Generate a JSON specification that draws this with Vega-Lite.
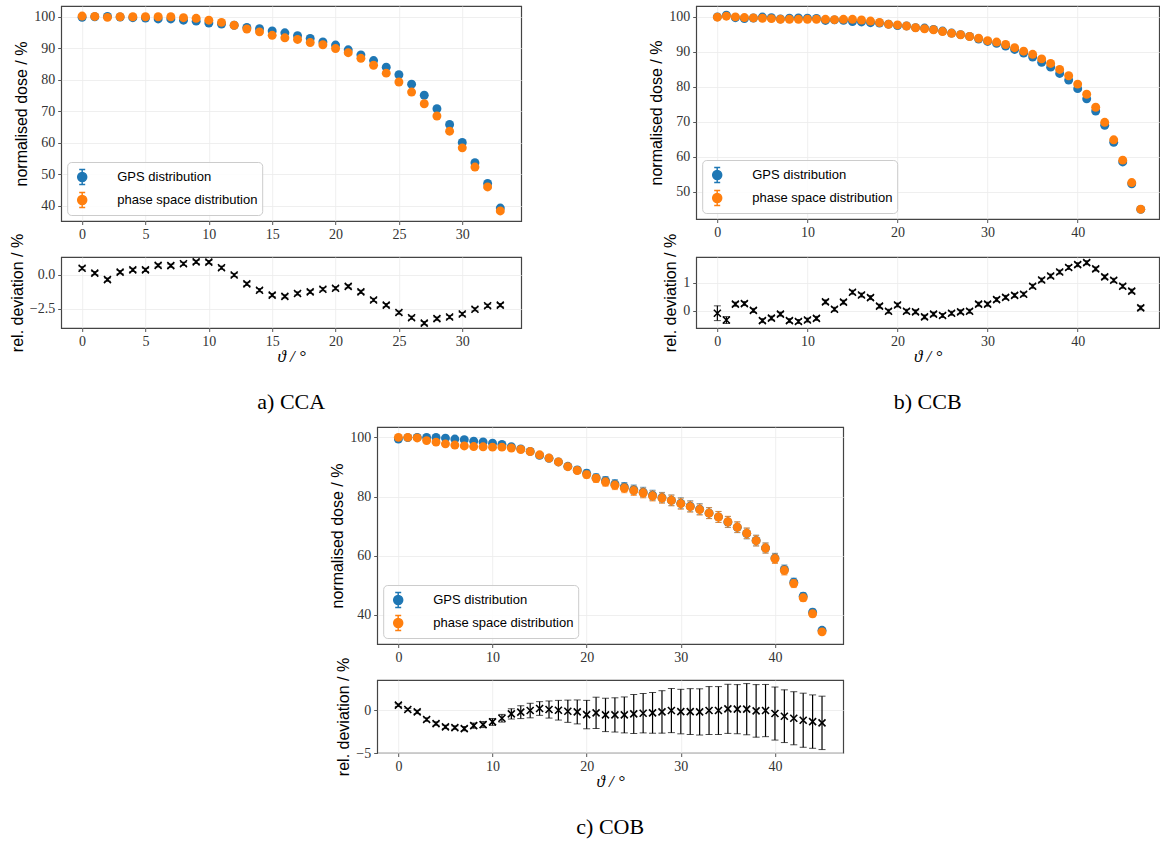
{
  "$schema": "https://vega.github.io/schema/vega-lite/v6.json",
  "background": "white",
  "padding": {"left": 8, "top": 5, "right": 0, "bottom": 0},
  "datasets": {
    "A": [
      {"t":0,"g":99.8,"p":100.2,"d":0.48,"e":0.12},
      {"t":1,"g":100.0,"p":100.1,"d":0.12,"e":0.12},
      {"t":2,"g":100.1,"p":99.8,"d":-0.36,"e":0.12},
      {"t":3,"g":99.9,"p":100.0,"d":0.19,"e":0.12},
      {"t":4,"g":99.7,"p":100.0,"d":0.36,"e":0.12},
      {"t":5,"g":99.6,"p":100.0,"d":0.36,"e":0.12},
      {"t":6,"g":99.3,"p":100.0,"d":0.69,"e":0.12},
      {"t":7,"g":99.3,"p":100.0,"d":0.67,"e":0.12},
      {"t":8,"g":98.9,"p":99.7,"d":0.81,"e":0.12},
      {"t":9,"g":98.6,"p":99.5,"d":0.95,"e":0.12},
      {"t":10,"g":98.0,"p":98.9,"d":0.93,"e":0.12},
      {"t":11,"g":97.7,"p":98.2,"d":0.52,"e":0.12},
      {"t":12,"g":97.3,"p":97.3,"d":-0.02,"e":0.12},
      {"t":13,"g":96.6,"p":96.1,"d":-0.67,"e":0.12},
      {"t":14,"g":96.2,"p":95.2,"d":-1.14,"e":0.12},
      {"t":15,"g":95.5,"p":94.1,"d":-1.5,"e":0.12},
      {"t":16,"g":94.9,"p":93.3,"d":-1.6,"e":0.12},
      {"t":17,"g":94.0,"p":92.8,"d":-1.38,"e":0.12},
      {"t":18,"g":93.1,"p":91.8,"d":-1.26,"e":0.12},
      {"t":19,"g":92.0,"p":91.1,"d":-1.07,"e":0.12},
      {"t":20,"g":91.0,"p":89.9,"d":-1.0,"e":0.12},
      {"t":21,"g":89.5,"p":88.6,"d":-0.86,"e":0.12},
      {"t":22,"g":87.9,"p":86.8,"d":-1.26,"e":0.12},
      {"t":23,"g":86.1,"p":84.6,"d":-1.86,"e":0.12},
      {"t":24,"g":84.0,"p":82.1,"d":-2.24,"e":0.12},
      {"t":25,"g":81.6,"p":79.3,"d":-2.79,"e":0.12},
      {"t":26,"g":78.6,"p":76.1,"d":-3.17,"e":0.12},
      {"t":27,"g":75.1,"p":72.4,"d":-3.57,"e":0.12},
      {"t":28,"g":70.8,"p":68.5,"d":-3.24,"e":0.12},
      {"t":29,"g":65.8,"p":63.7,"d":-3.12,"e":0.12},
      {"t":30,"g":60.1,"p":58.4,"d":-2.9,"e":0.12},
      {"t":31,"g":53.7,"p":52.3,"d":-2.55,"e":0.12},
      {"t":32,"g":47.1,"p":46.0,"d":-2.29,"e":0.12},
      {"t":33,"g":39.3,"p":38.4,"d":-2.24,"e":0.12}
    ],
    "B": [
      {"t":0,"g":99.9,"p":99.8,"d":-0.08,"e":0.26},
      {"t":1,"g":100.4,"p":100.1,"d":-0.32,"e":0.12},
      {"t":2,"g":99.66,"p":99.9,"d":0.24,"e":0.07},
      {"t":3,"g":99.44,"p":99.7,"d":0.26,"e":0.07},
      {"t":4,"g":99.58,"p":99.6,"d":0.02,"e":0.07},
      {"t":5,"g":99.84,"p":99.5,"d":-0.34,"e":0.07},
      {"t":6,"g":99.65,"p":99.4,"d":-0.25,"e":0.07},
      {"t":7,"g":99.31,"p":99.2,"d":-0.11,"e":0.07},
      {"t":8,"g":99.54,"p":99.2,"d":-0.34,"e":0.07},
      {"t":9,"g":99.57,"p":99.2,"d":-0.37,"e":0.07},
      {"t":10,"g":99.52,"p":99.2,"d":-0.32,"e":0.07},
      {"t":11,"g":99.46,"p":99.2,"d":-0.26,"e":0.07},
      {"t":12,"g":98.88,"p":99.2,"d":0.32,"e":0.07},
      {"t":13,"g":99.04,"p":99.1,"d":0.06,"e":0.07},
      {"t":14,"g":98.89,"p":99.2,"d":0.31,"e":0.07},
      {"t":15,"g":98.55,"p":99.2,"d":0.66,"e":0.07},
      {"t":16,"g":98.45,"p":99.0,"d":0.56,"e":0.07},
      {"t":17,"g":98.24,"p":98.7,"d":0.47,"e":0.07},
      {"t":18,"g":98.13,"p":98.3,"d":0.17,"e":0.07},
      {"t":19,"g":97.81,"p":97.8,"d":-0.01,"e":0.07},
      {"t":20,"g":97.4,"p":97.6,"d":0.21,"e":0.07},
      {"t":21,"g":97.31,"p":97.3,"d":-0.01,"e":0.07},
      {"t":22,"g":96.83,"p":96.8,"d":-0.03,"e":0.07},
      {"t":23,"g":96.7,"p":96.5,"d":-0.21,"e":0.07},
      {"t":24,"g":96.31,"p":96.2,"d":-0.11,"e":0.07},
      {"t":25,"g":95.85,"p":95.7,"d":-0.16,"e":0.07},
      {"t":26,"g":95.28,"p":95.2,"d":-0.08,"e":0.07},
      {"t":27,"g":94.83,"p":94.8,"d":-0.03,"e":0.07},
      {"t":28,"g":94.31,"p":94.3,"d":-0.01,"e":0.07},
      {"t":29,"g":93.58,"p":93.8,"d":0.24,"e":0.07},
      {"t":30,"g":92.88,"p":93.1,"d":0.24,"e":0.07},
      {"t":31,"g":92.33,"p":92.7,"d":0.40,"e":0.07},
      {"t":32,"g":91.56,"p":92.0,"d":0.48,"e":0.07},
      {"t":33,"g":90.6,"p":91.1,"d":0.55,"e":0.07},
      {"t":34,"g":89.57,"p":90.1,"d":0.59,"e":0.07},
      {"t":35,"g":88.43,"p":89.2,"d":0.87,"e":0.07},
      {"t":36,"g":86.95,"p":87.9,"d":1.09,"e":0.07},
      {"t":37,"g":85.55,"p":86.6,"d":1.23,"e":0.07},
      {"t":38,"g":83.75,"p":84.9,"d":1.37,"e":0.07},
      {"t":39,"g":81.85,"p":83.1,"d":1.53,"e":0.07},
      {"t":40,"g":79.41,"p":80.7,"d":1.63,"e":0.07},
      {"t":41,"g":76.5,"p":77.8,"d":1.70,"e":0.07},
      {"t":42,"g":73.02,"p":74.1,"d":1.48,"e":0.07},
      {"t":43,"g":68.97,"p":69.8,"d":1.20,"e":0.07},
      {"t":44,"g":64.11,"p":64.8,"d":1.08,"e":0.07},
      {"t":45,"g":58.49,"p":59.0,"d":0.87,"e":0.07},
      {"t":46,"g":52.23,"p":52.6,"d":0.70,"e":0.07},
      {"t":47,"g":44.95,"p":45.0,"d":0.11,"e":0.07}
    ],
    "C": [
      {"t":0,"g":99.41,"p":100.0,"me":0.2,"d":0.59,"e":0.15},
      {"t":1,"g":99.92,"p":100.0,"me":0.2,"d":0.08,"e":0.15},
      {"t":2,"g":100.0,"p":99.8,"me":0.2,"d":-0.2,"e":0.2},
      {"t":3,"g":99.99,"p":98.9,"me":0.2,"d":-1.09,"e":0.2},
      {"t":4,"g":99.96,"p":98.4,"me":0.2,"d":-1.56,"e":0.2},
      {"t":5,"g":99.75,"p":97.8,"me":0.2,"d":-1.95,"e":0.2},
      {"t":6,"g":99.42,"p":97.4,"me":0.2,"d":-2.03,"e":0.2},
      {"t":7,"g":99.23,"p":97.1,"me":0.2,"d":-2.15,"e":0.25},
      {"t":8,"g":98.68,"p":96.9,"me":0.2,"d":-1.8,"e":0.3},
      {"t":9,"g":98.45,"p":96.8,"me":0.25,"d":-1.68,"e":0.35},
      {"t":10,"g":98.04,"p":96.7,"me":0.3,"d":-1.37,"e":0.4},
      {"t":11,"g":97.62,"p":96.7,"me":0.3,"d":-0.94,"e":0.45},
      {"t":12,"g":96.82,"p":96.4,"me":0.35,"d":-0.43,"e":0.6},
      {"t":13,"g":96.12,"p":95.9,"me":0.45,"d":-0.23,"e":0.75},
      {"t":14,"g":95.24,"p":95.2,"me":0.55,"d":-0.04,"e":0.85},
      {"t":15,"g":93.91,"p":94.1,"me":0.6,"d":0.2,"e":0.8},
      {"t":16,"g":92.93,"p":93.0,"me":0.7,"d":0.08,"e":1.0},
      {"t":17,"g":91.7,"p":91.7,"me":0.8,"d":0.0,"e":1.15},
      {"t":18,"g":90.21,"p":90.1,"me":0.9,"d":-0.12,"e":1.3},
      {"t":19,"g":88.98,"p":88.8,"me":1.0,"d":-0.2,"e":1.4},
      {"t":20,"g":87.85,"p":87.4,"me":1.2,"d":-0.51,"e":1.66},
      {"t":21,"g":86.37,"p":86.1,"me":1.3,"d":-0.31,"e":1.83},
      {"t":22,"g":85.37,"p":84.9,"me":1.4,"d":-0.55,"e":1.95},
      {"t":23,"g":84.26,"p":83.8,"me":1.45,"d":-0.55,"e":2.0},
      {"t":24,"g":83.26,"p":82.8,"me":1.5,"d":-0.55,"e":2.1},
      {"t":25,"g":82.35,"p":82.0,"me":1.6,"d":-0.43,"e":2.28},
      {"t":26,"g":81.49,"p":81.2,"me":1.65,"d":-0.35,"e":2.3},
      {"t":27,"g":80.45,"p":80.2,"me":1.7,"d":-0.31,"e":2.38},
      {"t":28,"g":79.66,"p":79.5,"me":1.75,"d":-0.2,"e":2.48},
      {"t":29,"g":78.73,"p":78.7,"me":1.8,"d":-0.04,"e":2.58},
      {"t":30,"g":77.72,"p":77.6,"me":1.85,"d":-0.16,"e":2.6},
      {"t":31,"g":76.72,"p":76.6,"me":1.85,"d":-0.16,"e":2.68},
      {"t":32,"g":75.75,"p":75.6,"me":1.85,"d":-0.2,"e":2.7},
      {"t":33,"g":74.43,"p":74.4,"me":1.85,"d":-0.04,"e":2.8},
      {"t":34,"g":73.13,"p":73.1,"me":1.85,"d":-0.04,"e":2.8},
      {"t":35,"g":71.39,"p":71.5,"me":1.85,"d":0.16,"e":2.87},
      {"t":36,"g":69.62,"p":69.7,"me":1.8,"d":0.12,"e":2.87},
      {"t":37,"g":67.52,"p":67.6,"me":1.8,"d":0.12,"e":2.99},
      {"t":38,"g":65.15,"p":65.1,"me":1.8,"d":-0.08,"e":3.07},
      {"t":39,"g":62.63,"p":62.6,"me":1.7,"d":-0.04,"e":3.05},
      {"t":40,"g":59.23,"p":59.0,"me":1.6,"d":-0.39,"e":3.1},
      {"t":41,"g":55.39,"p":55.0,"me":1.5,"d":-0.7,"e":3.08},
      {"t":42,"g":51.08,"p":50.6,"me":1.35,"d":-0.94,"e":3.1},
      {"t":43,"g":46.34,"p":45.8,"me":1.2,"d":-1.17,"e":3.16},
      {"t":44,"g":40.94,"p":40.4,"me":1.05,"d":-1.33,"e":3.12},
      {"t":45,"g":34.82,"p":34.3,"me":0.9,"d":-1.48,"e":3.12}
    ]
  },
  "config": {
    "font": "Liberation Sans",
    "view": {"stroke": "#444444", "strokeWidth": 1.2},
    "axis": {
      "domain": false, "grid": true, "gridColor": "#ebebeb", "gridWidth": 0.8,
      "tickColor": "#444444", "tickSize": 3.5, "tickWidth": 0.9,
      "labelFont": "Liberation Serif", "labelFontSize": 14, "labelColor": "#333333", "labelPadding": 3,
      "labelFlush": false, "labelOverlap": false,
      "titleFont": "Liberation Sans", "titleFontSize": 16, "titleFontWeight": "normal", "titleColor": "#000000", "titlePadding": 4
    },
    "axisX": {"titleFont": "Liberation Serif", "titleFontStyle": "italic", "titleFontSize": 17, "titlePadding": 0},
    "legend": {
      "orient": "bottom-left", "offset": 6, "padding": 4, "rowPadding": 1,
      "fillColor": "rgba(255,255,255,0.85)", "strokeColor": "#cccccc", "cornerRadius": 4,
      "labelFont": "Liberation Sans", "labelFontSize": 13, "labelColor": "#000000", "labelOffset": 24,
      "symbolType": "M-0.45,0A0.45,0.45,0,1,1,0.45,0A0.45,0.45,0,1,1,-0.45,0ZM0,-0.75L0,0.75M-0.3,-0.75L0.3,-0.75M-0.3,0.75L0.3,0.75",
      "symbolSize": 400, "symbolStrokeWidth": 1.5, "symbolOpacity": 1
    },
    "title": {"font": "Liberation Serif", "fontSize": 22, "fontWeight": "normal", "color": "#000000", "orient": "bottom", "anchor": "middle", "offset": 27}
  },
  "vconcat": [
    {
      "columns": 2,
      "bounds": "flush",
      "spacing": {"row": 36, "column": 175},
      "resolve": {"scale": {"color": "independent"}, "legend": {"color": "independent"}},
      "concat": [
        {
          "width": 460, "height": 215,
          "data": {"name": "A"},
          "encoding": {"x": {"field": "t", "type": "quantitative", "scale": {"domain": [-1.65, 34.65], "nice": false, "zero": false}, "axis": {"values": [0,5,10,15,20,25,30], "title": null}}},
          "layer": [
            {"mark": {"type": "point", "filled": true, "size": 80, "opacity": 1},
             "encoding": {
               "y": {"field": "g", "type": "quantitative", "scale": {"domain": [35.2, 103.4], "nice": false, "zero": false}, "axis": {"values": [40,50,60,70,80,90,100], "title": "normalised dose / %"}},
               "color": {"datum": "GPS distribution", "type": "nominal", "scale": {"domain": ["GPS distribution", "phase space distribution"], "range": ["#1f77b4", "#ff7f0e"]},
                 "legend": {"title": null, "encode": {"symbols": {"update": {"stroke": {"signal": "datum.value === 'GPS distribution' ? '#1f77b4' : '#ff7f0e'"}, "strokeWidth": {"value": 1.5}}}}}}}},
            {"mark": {"type": "point", "filled": true, "size": 80, "opacity": 1},
             "encoding": {
               "y": {"field": "p", "type": "quantitative", "scale": {"domain": [35.2, 103.4], "nice": false, "zero": false}, "axis": {"values": [40,50,60,70,80,90,100], "title": "normalised dose / %"}},
               "color": {"datum": "phase space distribution", "type": "nominal"}}}
          ]
        },
        {
          "width": 463, "height": 213,
          "data": {"name": "B"},
          "encoding": {"x": {"field": "t", "type": "quantitative", "scale": {"domain": [-2.35, 49.05], "nice": false, "zero": false}, "axis": {"values": [0,10,20,30,40], "title": null}}},
          "layer": [
            {"mark": {"type": "point", "filled": true, "size": 80, "opacity": 1},
             "encoding": {
               "y": {"field": "g", "type": "quantitative", "scale": {"domain": [42.2, 103.0], "nice": false, "zero": false}, "axis": {"values": [50,60,70,80,90,100], "title": "normalised dose / %"}},
               "color": {"datum": "GPS distribution", "type": "nominal", "scale": {"domain": ["GPS distribution", "phase space distribution"], "range": ["#1f77b4", "#ff7f0e"]},
                 "legend": {"title": null, "encode": {"symbols": {"update": {"stroke": {"signal": "datum.value === 'GPS distribution' ? '#1f77b4' : '#ff7f0e'"}, "strokeWidth": {"value": 1.5}}}}}}}},
            {"mark": {"type": "point", "filled": true, "size": 80, "opacity": 1},
             "encoding": {
               "y": {"field": "p", "type": "quantitative", "scale": {"domain": [42.2, 103.0], "nice": false, "zero": false}, "axis": {"values": [50,60,70,80,90,100], "title": "normalised dose / %"}},
               "color": {"datum": "phase space distribution", "type": "nominal"}}}
          ]
        },
        {
          "width": 460, "height": 71,
          "data": {"name": "A"},
          "title": {"text": "a) CCA"},
          "encoding": {
            "x": {"field": "t", "type": "quantitative", "scale": {"domain": [-1.65, 34.65], "nice": false, "zero": false}, "axis": {"values": [0,5,10,15,20,25,30], "title": "ϑ / °"}},
            "y": {"field": "d", "type": "quantitative", "scale": {"domain": [-3.93, 1.31], "nice": false, "zero": false}, "axis": {"values": [-2.5, 0], "format": ".1f", "title": "rel. deviation / %"}}
          },
          "layer": [
            {"mark": {"type": "errorbar", "color": "#000000", "ticks": {"size": 7}, "rule": {"strokeWidth": 1.2}}, "encoding": {"yError": {"field": "e"}}},
            {"mark": {"type": "point", "shape": "M-1,-1L1,1M-1,1L1,-1", "filled": false, "color": "#000000", "strokeWidth": 1.6, "size": 49, "opacity": 1}}
          ]
        },
        {
          "width": 463, "height": 71,
          "data": {"name": "B"},
          "title": {"text": "b) CCB"},
          "encoding": {
            "x": {"field": "t", "type": "quantitative", "scale": {"domain": [-2.35, 49.05], "nice": false, "zero": false}, "axis": {"values": [0,10,20,30,40], "title": "ϑ / °"}},
            "y": {"field": "d", "type": "quantitative", "scale": {"domain": [-0.6, 1.9], "nice": false, "zero": false}, "axis": {"values": [0, 1], "format": "d", "title": "rel. deviation / %"}}
          },
          "layer": [
            {"mark": {"type": "errorbar", "color": "#000000", "ticks": {"size": 7}, "rule": {"strokeWidth": 1.2}}, "encoding": {"yError": {"field": "e"}}},
            {"mark": {"type": "point", "shape": "M-1,-1L1,1M-1,1L1,-1", "filled": false, "color": "#000000", "strokeWidth": 1.6, "size": 49, "opacity": 1}}
          ]
        }
      ]
    },
    {
      "bounds": "flush",
      "spacing": 36,
      "resolve": {"scale": {"color": "independent"}, "legend": {"color": "independent"}},
      "vconcat": [
        {
          "width": 466, "height": 217,
          "data": {"name": "C"},
          "encoding": {"x": {"field": "t", "type": "quantitative", "scale": {"domain": [-2.25, 47.25], "nice": false, "zero": false}, "axis": {"values": [0,10,20,30,40], "title": null}}},
          "layer": [
            {"mark": {"type": "errorbar", "color": "#1f77b4", "ticks": {"size": 6}, "rule": {"strokeWidth": 1.2}},
             "encoding": {"y": {"field": "g", "type": "quantitative", "scale": {"domain": [30.2, 103.5], "nice": false, "zero": false}, "axis": {"values": [40,60,80,100], "title": "normalised dose / %"}}, "yError": {"field": "me"}}},
            {"mark": {"type": "point", "filled": true, "size": 80, "opacity": 1},
             "encoding": {
               "y": {"field": "g", "type": "quantitative", "scale": {"domain": [30.2, 103.5], "nice": false, "zero": false}, "axis": {"values": [40,60,80,100], "title": "normalised dose / %"}},
               "color": {"datum": "GPS distribution", "type": "nominal", "scale": {"domain": ["GPS distribution", "phase space distribution"], "range": ["#1f77b4", "#ff7f0e"]},
                 "legend": {"title": null, "encode": {"symbols": {"update": {"stroke": {"signal": "datum.value === 'GPS distribution' ? '#1f77b4' : '#ff7f0e'"}, "strokeWidth": {"value": 1.5}}}}}}}},
            {"mark": {"type": "errorbar", "color": "#ff7f0e", "ticks": {"size": 6}, "rule": {"strokeWidth": 1.2}},
             "encoding": {"y": {"field": "p", "type": "quantitative", "scale": {"domain": [30.2, 103.5], "nice": false, "zero": false}, "axis": {"values": [40,60,80,100], "title": "normalised dose / %"}}, "yError": {"field": "me"}}},
            {"mark": {"type": "point", "filled": true, "size": 80, "opacity": 1},
             "encoding": {
               "y": {"field": "p", "type": "quantitative", "scale": {"domain": [30.2, 103.5], "nice": false, "zero": false}, "axis": {"values": [40,60,80,100], "title": "normalised dose / %"}},
               "color": {"datum": "phase space distribution", "type": "nominal"}}}
          ]
        },
        {
          "width": 466, "height": 73,
          "data": {"name": "C"},
          "title": {"text": "c) COB"},
          "encoding": {
            "x": {"field": "t", "type": "quantitative", "scale": {"domain": [-2.25, 47.25], "nice": false, "zero": false}, "axis": {"values": [0,10,20,30,40], "title": "ϑ / °"}},
            "y": {"field": "d", "type": "quantitative", "scale": {"domain": [-5.0, 3.53], "nice": false, "zero": false}, "axis": {"values": [-5, 0], "format": "d", "title": "rel. deviation / %"}}
          },
          "layer": [
            {"mark": {"type": "errorbar", "color": "#000000", "ticks": {"size": 7}, "rule": {"strokeWidth": 1.2}}, "encoding": {"yError": {"field": "e"}}},
            {"mark": {"type": "point", "shape": "M-1,-1L1,1M-1,1L1,-1", "filled": false, "color": "#000000", "strokeWidth": 1.6, "size": 49, "opacity": 1}}
          ]
        }
      ]
    }
  ],
  "bounds": "full",
  "center": true,
  "spacing": 12,
  "resolve": {"scale": {"color": "independent"}, "legend": {"color": "independent"}}
}
